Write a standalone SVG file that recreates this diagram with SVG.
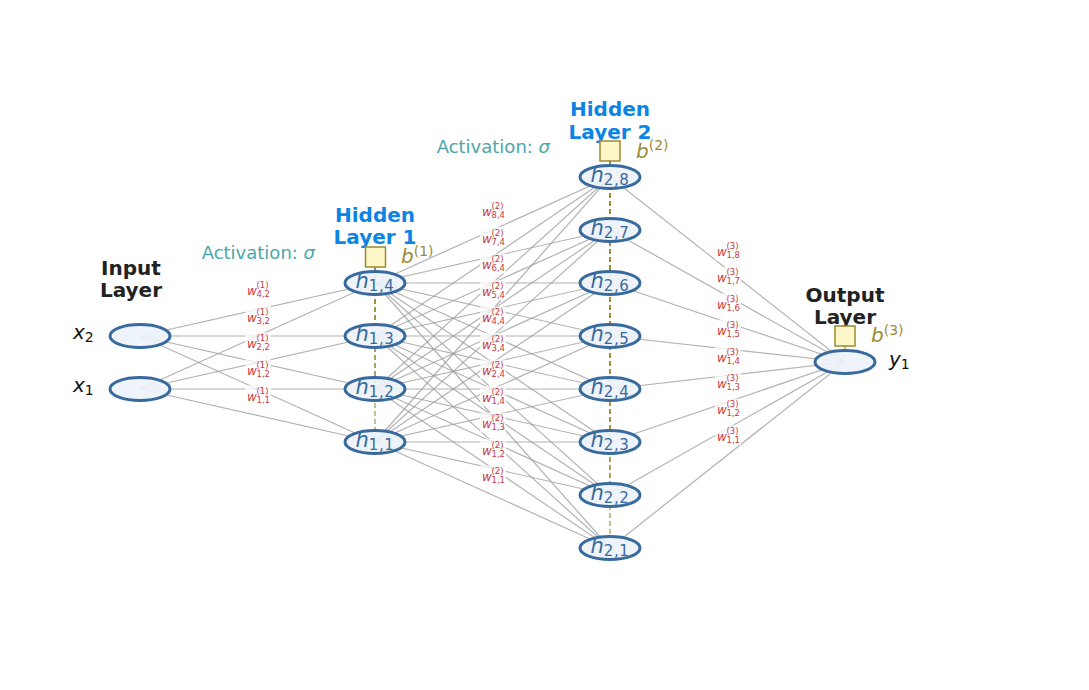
<svg xmlns="http://www.w3.org/2000/svg" width="1089" height="690" viewBox="0 0 1089 690">
<style>
text{font-family:"DejaVu Sans","Liberation Sans",sans-serif}
.e{stroke:#9a9a9a;stroke-opacity:0.75;stroke-width:1.2}
.bd{stroke:#9a8b2e;stroke-opacity:0.55;stroke-width:2;stroke-dasharray:5 3}
.nd{fill:#eef3fa;fill-opacity:0.92;stroke:#386a9e;stroke-width:3}
.bb{fill:#fdf6c8;stroke:#9a8b32;stroke-width:1.5}
.nl{fill:#386a9e;font-size:21px}
.it{font-style:italic}
.sb{font-size:15px;letter-spacing:0.6px}
.t{font-weight:bold;font-size:20px;text-anchor:middle}
.tk{fill:#222}
.tb{fill:#0b84e4}
.act{fill:#4ba7a7;font-size:18px;text-anchor:end}
.bl{fill:#9a8b32;font-size:20px}
.bs{font-size:14px;font-style:normal}
.wl rect{fill:#fff;fill-opacity:0.72}
.wl text{fill:#c8393f}
.ww{font-size:12px;font-style:italic}
.ws{font-size:8.5px}
.io{fill:#111;font-size:20px}
.is{font-size:14px}
</style>
<g id="connectors">
<line class="e" x1="140" y1="336" x2="375" y2="283"/><line class="e" x1="140" y1="336" x2="375" y2="336"/><line class="e" x1="140" y1="336" x2="375" y2="389"/><line class="e" x1="140" y1="336" x2="375" y2="442"/>
<line class="e" x1="140" y1="389" x2="375" y2="283"/><line class="e" x1="140" y1="389" x2="375" y2="336"/><line class="e" x1="140" y1="389" x2="375" y2="389"/><line class="e" x1="140" y1="389" x2="375" y2="442"/>
<line class="e" x1="375" y1="283" x2="610" y2="177"/><line class="e" x1="375" y1="283" x2="610" y2="230"/><line class="e" x1="375" y1="283" x2="610" y2="283"/><line class="e" x1="375" y1="283" x2="610" y2="336"/><line class="e" x1="375" y1="283" x2="610" y2="389"/><line class="e" x1="375" y1="283" x2="610" y2="442"/><line class="e" x1="375" y1="283" x2="610" y2="495"/><line class="e" x1="375" y1="283" x2="610" y2="548"/>
<line class="e" x1="375" y1="336" x2="610" y2="177"/><line class="e" x1="375" y1="336" x2="610" y2="230"/><line class="e" x1="375" y1="336" x2="610" y2="283"/><line class="e" x1="375" y1="336" x2="610" y2="336"/><line class="e" x1="375" y1="336" x2="610" y2="389"/><line class="e" x1="375" y1="336" x2="610" y2="442"/><line class="e" x1="375" y1="336" x2="610" y2="495"/><line class="e" x1="375" y1="336" x2="610" y2="548"/>
<line class="e" x1="375" y1="389" x2="610" y2="177"/><line class="e" x1="375" y1="389" x2="610" y2="230"/><line class="e" x1="375" y1="389" x2="610" y2="283"/><line class="e" x1="375" y1="389" x2="610" y2="336"/><line class="e" x1="375" y1="389" x2="610" y2="389"/><line class="e" x1="375" y1="389" x2="610" y2="442"/><line class="e" x1="375" y1="389" x2="610" y2="495"/><line class="e" x1="375" y1="389" x2="610" y2="548"/>
<line class="e" x1="375" y1="442" x2="610" y2="177"/><line class="e" x1="375" y1="442" x2="610" y2="230"/><line class="e" x1="375" y1="442" x2="610" y2="283"/><line class="e" x1="375" y1="442" x2="610" y2="336"/><line class="e" x1="375" y1="442" x2="610" y2="389"/><line class="e" x1="375" y1="442" x2="610" y2="442"/><line class="e" x1="375" y1="442" x2="610" y2="495"/><line class="e" x1="375" y1="442" x2="610" y2="548"/>
<line class="e" x1="610" y1="177" x2="845" y2="362"/><line class="e" x1="610" y1="230" x2="845" y2="362"/><line class="e" x1="610" y1="283" x2="845" y2="362"/><line class="e" x1="610" y1="336" x2="845" y2="362"/><line class="e" x1="610" y1="389" x2="845" y2="362"/><line class="e" x1="610" y1="442" x2="845" y2="362"/><line class="e" x1="610" y1="495" x2="845" y2="362"/><line class="e" x1="610" y1="548" x2="845" y2="362"/>
<line class="bd" x1="375" y1="267" x2="375" y2="283"/><line class="bd" x1="375" y1="267" x2="375" y2="336"/><line class="bd" x1="375" y1="267" x2="375" y2="389"/><line class="bd" x1="375" y1="267" x2="375" y2="442"/>
<line class="bd" x1="610" y1="161" x2="610" y2="177"/><line class="bd" x1="610" y1="161" x2="610" y2="230"/><line class="bd" x1="610" y1="161" x2="610" y2="283"/><line class="bd" x1="610" y1="161" x2="610" y2="336"/><line class="bd" x1="610" y1="161" x2="610" y2="389"/><line class="bd" x1="610" y1="161" x2="610" y2="442"/><line class="bd" x1="610" y1="161" x2="610" y2="495"/><line class="bd" x1="610" y1="161" x2="610" y2="548"/>
<line class="bd" x1="845" y1="346" x2="845" y2="362"/>
</g>
<g id="weight-labels">
<g class="wl" transform="translate(258,289.5)"><rect x="-13" y="-10" width="26" height="20"/><text class="ww" x="-11" y="5.5">w</text><text class="ws" x="-1.5" y="-1.5">(1)</text><text class="ws" x="-1.5" y="7.5">4,2</text></g>
<g class="wl" transform="translate(258,316)"><rect x="-13" y="-10" width="26" height="20"/><text class="ww" x="-11" y="5.5">w</text><text class="ws" x="-1.5" y="-1.5">(1)</text><text class="ws" x="-1.5" y="7.5">3,2</text></g>
<g class="wl" transform="translate(258,342.5)"><rect x="-13" y="-10" width="26" height="20"/><text class="ww" x="-11" y="5.5">w</text><text class="ws" x="-1.5" y="-1.5">(1)</text><text class="ws" x="-1.5" y="7.5">2,2</text></g>
<g class="wl" transform="translate(258,369)"><rect x="-13" y="-10" width="26" height="20"/><text class="ww" x="-11" y="5.5">w</text><text class="ws" x="-1.5" y="-1.5">(1)</text><text class="ws" x="-1.5" y="7.5">1,2</text></g>
<g class="wl" transform="translate(258,395.5)"><rect x="-13" y="-10" width="26" height="20"/><text class="ww" x="-11" y="5.5">w</text><text class="ws" x="-1.5" y="-1.5">(1)</text><text class="ws" x="-1.5" y="7.5">1,1</text></g>
<g class="wl" transform="translate(493,210.5)"><rect x="-13" y="-10" width="26" height="20"/><text class="ww" x="-11" y="5.5">w</text><text class="ws" x="-1.5" y="-1.5">(2)</text><text class="ws" x="-1.5" y="7.5">8,4</text></g>
<g class="wl" transform="translate(493,237)"><rect x="-13" y="-10" width="26" height="20"/><text class="ww" x="-11" y="5.5">w</text><text class="ws" x="-1.5" y="-1.5">(2)</text><text class="ws" x="-1.5" y="7.5">7,4</text></g>
<g class="wl" transform="translate(493,263.5)"><rect x="-13" y="-10" width="26" height="20"/><text class="ww" x="-11" y="5.5">w</text><text class="ws" x="-1.5" y="-1.5">(2)</text><text class="ws" x="-1.5" y="7.5">6,4</text></g>
<g class="wl" transform="translate(493,290)"><rect x="-13" y="-10" width="26" height="20"/><text class="ww" x="-11" y="5.5">w</text><text class="ws" x="-1.5" y="-1.5">(2)</text><text class="ws" x="-1.5" y="7.5">5,4</text></g>
<g class="wl" transform="translate(493,316.5)"><rect x="-13" y="-10" width="26" height="20"/><text class="ww" x="-11" y="5.5">w</text><text class="ws" x="-1.5" y="-1.5">(2)</text><text class="ws" x="-1.5" y="7.5">4,4</text></g>
<g class="wl" transform="translate(493,343)"><rect x="-13" y="-10" width="26" height="20"/><text class="ww" x="-11" y="5.5">w</text><text class="ws" x="-1.5" y="-1.5">(2)</text><text class="ws" x="-1.5" y="7.5">3,4</text></g>
<g class="wl" transform="translate(493,369.5)"><rect x="-13" y="-10" width="26" height="20"/><text class="ww" x="-11" y="5.5">w</text><text class="ws" x="-1.5" y="-1.5">(2)</text><text class="ws" x="-1.5" y="7.5">2,4</text></g>
<g class="wl" transform="translate(493,396)"><rect x="-13" y="-10" width="26" height="20"/><text class="ww" x="-11" y="5.5">w</text><text class="ws" x="-1.5" y="-1.5">(2)</text><text class="ws" x="-1.5" y="7.5">1,4</text></g>
<g class="wl" transform="translate(493,422.5)"><rect x="-13" y="-10" width="26" height="20"/><text class="ww" x="-11" y="5.5">w</text><text class="ws" x="-1.5" y="-1.5">(2)</text><text class="ws" x="-1.5" y="7.5">1,3</text></g>
<g class="wl" transform="translate(493,449)"><rect x="-13" y="-10" width="26" height="20"/><text class="ww" x="-11" y="5.5">w</text><text class="ws" x="-1.5" y="-1.5">(2)</text><text class="ws" x="-1.5" y="7.5">1,2</text></g>
<g class="wl" transform="translate(493,475.5)"><rect x="-13" y="-10" width="26" height="20"/><text class="ww" x="-11" y="5.5">w</text><text class="ws" x="-1.5" y="-1.5">(2)</text><text class="ws" x="-1.5" y="7.5">1,1</text></g>
<g class="wl" transform="translate(728,250.5)"><rect x="-13" y="-10" width="26" height="20"/><text class="ww" x="-11" y="5.5">w</text><text class="ws" x="-1.5" y="-1.5">(3)</text><text class="ws" x="-1.5" y="7.5">1,8</text></g>
<g class="wl" transform="translate(728,276.9)"><rect x="-13" y="-10" width="26" height="20"/><text class="ww" x="-11" y="5.5">w</text><text class="ws" x="-1.5" y="-1.5">(3)</text><text class="ws" x="-1.5" y="7.5">1,7</text></g>
<g class="wl" transform="translate(728,303.3)"><rect x="-13" y="-10" width="26" height="20"/><text class="ww" x="-11" y="5.5">w</text><text class="ws" x="-1.5" y="-1.5">(3)</text><text class="ws" x="-1.5" y="7.5">1,6</text></g>
<g class="wl" transform="translate(728,329.7)"><rect x="-13" y="-10" width="26" height="20"/><text class="ww" x="-11" y="5.5">w</text><text class="ws" x="-1.5" y="-1.5">(3)</text><text class="ws" x="-1.5" y="7.5">1,5</text></g>
<g class="wl" transform="translate(728,356.1)"><rect x="-13" y="-10" width="26" height="20"/><text class="ww" x="-11" y="5.5">w</text><text class="ws" x="-1.5" y="-1.5">(3)</text><text class="ws" x="-1.5" y="7.5">1,4</text></g>
<g class="wl" transform="translate(728,382.5)"><rect x="-13" y="-10" width="26" height="20"/><text class="ww" x="-11" y="5.5">w</text><text class="ws" x="-1.5" y="-1.5">(3)</text><text class="ws" x="-1.5" y="7.5">1,3</text></g>
<g class="wl" transform="translate(728,408.9)"><rect x="-13" y="-10" width="26" height="20"/><text class="ww" x="-11" y="5.5">w</text><text class="ws" x="-1.5" y="-1.5">(3)</text><text class="ws" x="-1.5" y="7.5">1,2</text></g>
<g class="wl" transform="translate(728,435.3)"><rect x="-13" y="-10" width="26" height="20"/><text class="ww" x="-11" y="5.5">w</text><text class="ws" x="-1.5" y="-1.5">(3)</text><text class="ws" x="-1.5" y="7.5">1,1</text></g>
</g>
<g id="input-layer">
<text class="t tk" x="131" y="275">Input</text><text class="t tk" x="131" y="297">Layer</text>
</g>
<g id="x2"><ellipse class="nd" cx="140" cy="336" rx="30" ry="11.5"/><text class="io" x="73" y="339"><tspan class="it">x</tspan><tspan class="is" dy="3">2</tspan></text></g>
<g id="x1"><ellipse class="nd" cx="140" cy="389" rx="30" ry="11.5"/><text class="io" x="73" y="392"><tspan class="it">x</tspan><tspan class="is" dy="3">1</tspan></text></g>
<g id="hidden-layer-1">
<text class="t tb" x="375" y="222">Hidden</text><text class="t tb" x="375" y="244">Layer 1</text>
<text class="act" x="315" y="259">Activation: <tspan class="it">σ</tspan></text>
</g>
<g id="bias1"><rect class="bb" x="365.5" y="247" width="20" height="20"/><text class="bl" x="401" y="263"><tspan class="it">b</tspan><tspan class="bs" dy="-7.5">(1)</tspan></text></g>
<g id="h1_4"><ellipse class="nd" cx="375" cy="283" rx="30" ry="11.5"/><text class="nl" x="375" y="288" text-anchor="middle"><tspan class="it">h</tspan><tspan class="sb" dy="2.5">1,4</tspan></text></g>
<g id="h1_3"><ellipse class="nd" cx="375" cy="336" rx="30" ry="11.5"/><text class="nl" x="375" y="341" text-anchor="middle"><tspan class="it">h</tspan><tspan class="sb" dy="2.5">1,3</tspan></text></g>
<g id="h1_2"><ellipse class="nd" cx="375" cy="389" rx="30" ry="11.5"/><text class="nl" x="375" y="394" text-anchor="middle"><tspan class="it">h</tspan><tspan class="sb" dy="2.5">1,2</tspan></text></g>
<g id="h1_1"><ellipse class="nd" cx="375" cy="442" rx="30" ry="11.5"/><text class="nl" x="375" y="447" text-anchor="middle"><tspan class="it">h</tspan><tspan class="sb" dy="2.5">1,1</tspan></text></g>
<g id="hidden-layer-2">
<text class="t tb" x="610" y="116">Hidden</text><text class="t tb" x="610" y="139">Layer 2</text>
<text class="act" x="550" y="153">Activation: <tspan class="it">σ</tspan></text>
</g>
<g id="bias2"><rect class="bb" x="600" y="141" width="20" height="20"/><text class="bl" x="636" y="157.5"><tspan class="it">b</tspan><tspan class="bs" dy="-7.5">(2)</tspan></text></g>
<g id="h2_8"><ellipse class="nd" cx="610" cy="177" rx="30" ry="11.5"/><text class="nl" x="610" y="182" text-anchor="middle"><tspan class="it">h</tspan><tspan class="sb" dy="2.5">2,8</tspan></text></g>
<g id="h2_7"><ellipse class="nd" cx="610" cy="230" rx="30" ry="11.5"/><text class="nl" x="610" y="235" text-anchor="middle"><tspan class="it">h</tspan><tspan class="sb" dy="2.5">2,7</tspan></text></g>
<g id="h2_6"><ellipse class="nd" cx="610" cy="283" rx="30" ry="11.5"/><text class="nl" x="610" y="288" text-anchor="middle"><tspan class="it">h</tspan><tspan class="sb" dy="2.5">2,6</tspan></text></g>
<g id="h2_5"><ellipse class="nd" cx="610" cy="336" rx="30" ry="11.5"/><text class="nl" x="610" y="341" text-anchor="middle"><tspan class="it">h</tspan><tspan class="sb" dy="2.5">2,5</tspan></text></g>
<g id="h2_4"><ellipse class="nd" cx="610" cy="389" rx="30" ry="11.5"/><text class="nl" x="610" y="394" text-anchor="middle"><tspan class="it">h</tspan><tspan class="sb" dy="2.5">2,4</tspan></text></g>
<g id="h2_3"><ellipse class="nd" cx="610" cy="442" rx="30" ry="11.5"/><text class="nl" x="610" y="447" text-anchor="middle"><tspan class="it">h</tspan><tspan class="sb" dy="2.5">2,3</tspan></text></g>
<g id="h2_2"><ellipse class="nd" cx="610" cy="495" rx="30" ry="11.5"/><text class="nl" x="610" y="500" text-anchor="middle"><tspan class="it">h</tspan><tspan class="sb" dy="2.5">2,2</tspan></text></g>
<g id="h2_1"><ellipse class="nd" cx="610" cy="548" rx="30" ry="11.5"/><text class="nl" x="610" y="553" text-anchor="middle"><tspan class="it">h</tspan><tspan class="sb" dy="2.5">2,1</tspan></text></g>
<g id="output-layer">
<text class="t tk" x="845" y="302">Output</text><text class="t tk" x="845" y="324">Layer</text>
</g>
<g id="bias3"><rect class="bb" x="835" y="326" width="20" height="20"/><text class="bl" x="871" y="342"><tspan class="it">b</tspan><tspan class="bs" dy="-7.5">(3)</tspan></text></g>
<g id="y1"><ellipse class="nd" cx="845" cy="362" rx="30" ry="11.5"/><text class="io" x="889" y="365.5"><tspan class="it">y</tspan><tspan class="is" dy="3">1</tspan></text></g>
</svg>
